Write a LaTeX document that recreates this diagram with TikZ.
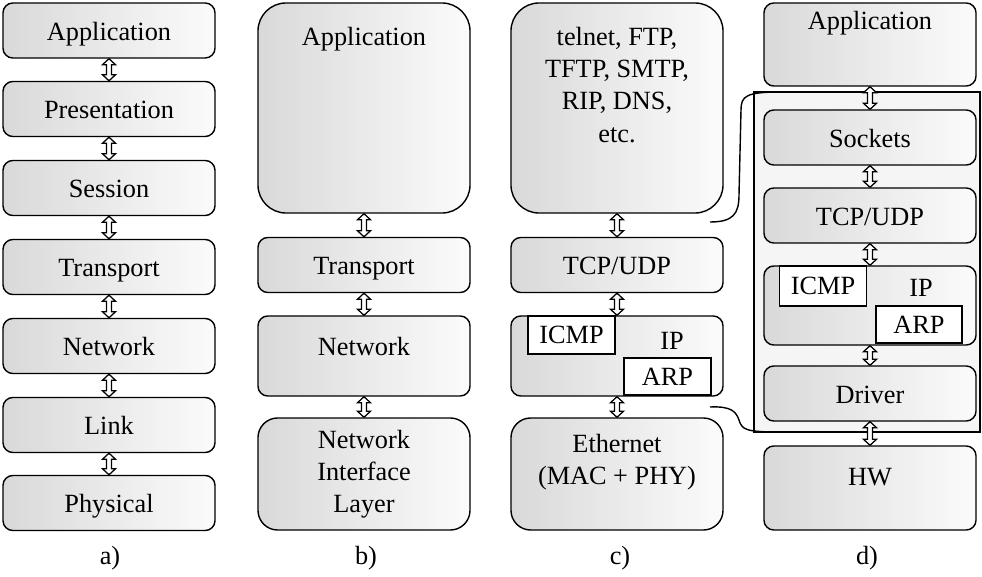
\documentclass[tikz,border=0pt]{standalone}
\usepackage{fontspec}
\setmainfont{Liberation Serif}
\usetikzlibrary{calc}
\tikzset{
  lfont/.style={font=\fontsize{18.7}{22.8}\selectfont},
  layer/.style={draw, line width=1pt, rounded corners=7pt, left color=gray!30, right color=gray!3,
    minimum width=5.3cm, minimum height=1.375cm, inner sep=0pt, text height=15pt, text depth=1pt, lfont},
  biglayer/.style={layer, rounded corners=20pt},
  sub/.style={draw, line width=1pt, fill=white, inner sep=0pt, minimum width=2.18cm, minimum height=0.95cm, lfont},
  txt/.style={inner sep=0pt, align=center, lfont},
  % hollow double headed arrow between two layers
  link/.style={draw, line width=0.9pt, fill=white, to path={
      -- ($(\tikztostart)+(-6.5,6)$) -- ($(\tikztostart)+(-2.5,6)$)
      -- ($(\tikztotarget)+(-2.5,-6)$) -- ($(\tikztotarget)+(-6.5,-6)$)
      -- (\tikztotarget)
      -- ($(\tikztotarget)+(6.5,-6)$) -- ($(\tikztotarget)+(2.5,-6)$)
      -- ($(\tikztostart)+(2.5,6)$) -- ($(\tikztostart)+(6.5,6)$) -- cycle}},
}
\begin{document}
\begin{tikzpicture}[x=0.025cm, y=-0.025cm]
    \useasboundingbox (0,0) rectangle (982,577);
    % a) OSI model
    \node [layer] (aapp) at (109,30.5) {Application};
    \node [layer] (apres) at (109,109) {Presentation};
    \node [layer] (asess) at (109,188) {Session};
    \node [layer] (atrans) at (109,267) {Transport};
    \node [layer] (anet) at (109,346) {Network};
    \node [layer] (alink) at (109,425) {Link};
    \node [layer] (aphy) at (109,503) {Physical};
    \foreach \u/\v in {aapp/apres,apres/asess,asess/atrans,atrans/anet,anet/alink,alink/aphy}
      \path [link] (\u.south) to (\v.north);
    % b) TCP/IP model
    \node [biglayer, minimum height=5.25cm] (bapp) at (364,108) {};
    \node [layer] (btrans) at (364,265) {Transport};
    \node [layer, minimum height=2cm] (bnet) at (364,356) {};
    \node [biglayer, rounded corners=14pt, minimum height=2.8cm] (bnil) at (364,474) {};
    \path [link] (bapp.south) to (btrans.north);
    \path [link] (btrans.south) to (bnet.north);
    \path [link] (bnet.south) to (bnil.north);
    % c) protocols
    \node [biglayer, minimum height=5.25cm] (capp) at (617,108) {};
    \node [layer] (ctcp) at (617,265) {TCP/UDP};
    \node [layer, minimum height=2cm] (cip) at (617,356) {};
    \node [sub] (cicmp) at (571.5,335) {ICMP};
    \node [sub, minimum height=0.925cm] (carp) at (667.5,376.5) {ARP};
    \node [biglayer, rounded corners=14pt, minimum height=2.8cm] (ceth) at (617,474) {};
    \path [link] (capp.south) to (ctcp.north);
    \path [link] (ctcp.south) to (cip.north);
    \path [link] (cip.south) to (ceth.north);
    % d) implementation
    \node [layer, minimum height=2.075cm] (dapp) at (870,44.5) {};
    \draw [line width=1pt, fill=gray!8] (754,92) rectangle (980,432);
    \node [layer] (dsock) at (870,137.5) {Sockets};
    \node [layer] (dtcp) at (870,215.5) {TCP/UDP};
    \node [layer, minimum height=1.975cm] (dip) at (870,305.5) {};
    \node [sub, minimum height=1cm] (dicmp) at (823,286) {ICMP};
    \node [sub, minimum width=2.15cm, minimum height=0.925cm] (darp) at (919,324.5) {ARP};
    \node [layer] (ddrv) at (870,393.5) {Driver};
    \node [layer, minimum height=2.1cm] (dhw) at (870,488) {};
    \foreach \u/\v in {dapp/dsock,dsock/dtcp,dtcp/dip,dip/ddrv,ddrv/dhw}
      \path [link] (\u.south) to (\v.north);
    % braces from c) to d)
    \draw [line width=1pt] (710,222) .. controls (733,222) and (739,214) .. (739,195)
      -- (741,110) .. controls (741,96) and (746,92) .. (781,92);
    \draw [line width=1pt] (710,407) .. controls (732,406) and (736,412) .. (739,420)
      .. controls (742,430) and (746,432) .. (781,432);
    % add labels
    \node [txt] (tbapp) at (364,39) {Application};
    \node [txt] (tbnet) at (364,347) {Network};
    \node [txt] (tbnil) at (364,474) {Network\\Interface\\Layer};
    \node [txt] (tcapp) at (617,85) {telnet, FTP,\\TFTP, SMTP,\\RIP, DNS,\\etc.};
    \node [txt] (tcip) at (672,341) {IP};
    \node [txt] (tceth) at (617,462) {Ethernet\\(MAC + PHY)};
    \node [txt] (tdapp) at (870,23) {Application};
    \node [txt] (tdip) at (921,288) {IP};
    \node [txt] (tdhw) at (870,477) {HW};
    \node [txt] (la) at (110,558) {a)};
    \node [txt] (lb) at (366,558) {b)};
    \node [txt] (lc) at (620,558) {c)};
    \node [txt] (ld) at (867,558) {d)};
\end{tikzpicture}
\end{document}
